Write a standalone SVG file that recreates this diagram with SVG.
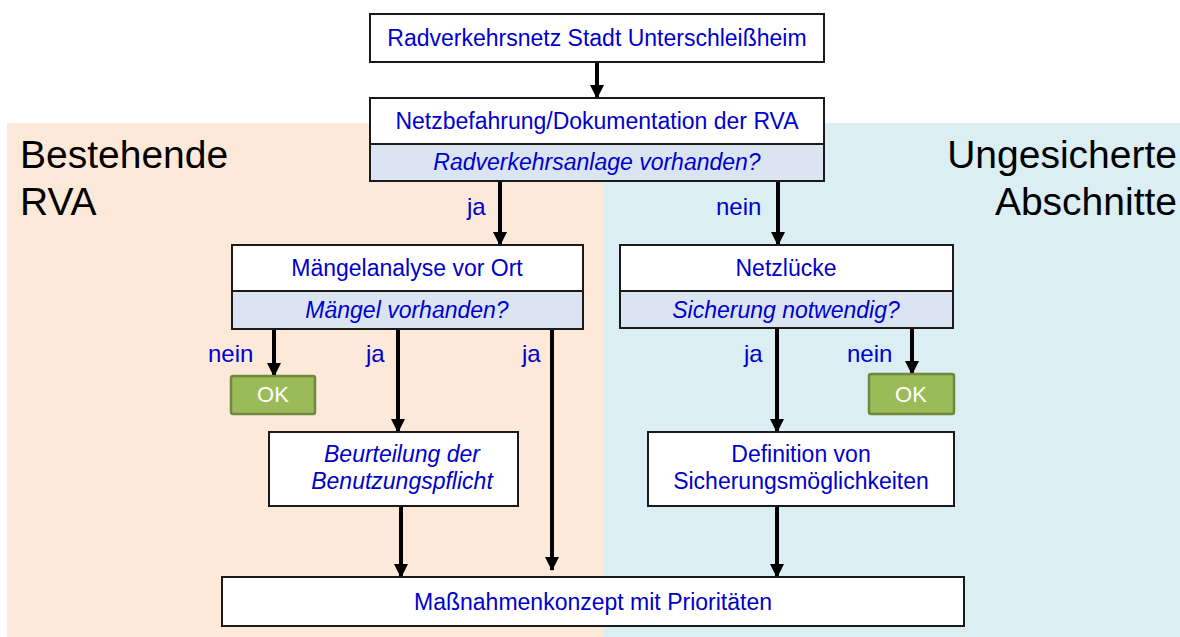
<svg xmlns="http://www.w3.org/2000/svg" width="1180" height="637" viewBox="0 0 1180 637">
<style>
.box{fill:#fff;stroke:#1a1a1a;stroke-width:2}
.band{fill:#dbe5f1;stroke:#1a1a1a;stroke-width:2}
.ok{fill:#9bbb59;stroke:#71893f;stroke-width:2.5}
.t{font-family:"Liberation Sans",Arial,sans-serif;font-size:23px;fill:#0000cc;text-anchor:middle}
.i{font-style:italic}
.lbl{font-family:"Liberation Sans",Arial,sans-serif;font-size:24px;fill:#0000cc}
.okt{font-family:"Liberation Sans",Arial,sans-serif;font-size:22px;fill:#fff;text-anchor:middle}
.big{font-family:"Liberation Sans",Arial,sans-serif;font-size:39px;fill:#000}
.arr{stroke:#000;stroke-width:4;fill:none;marker-end:url(#ah)}
</style>
<defs>
<marker id="ah" markerUnits="userSpaceOnUse" markerWidth="14" markerHeight="14" viewBox="0 0 14 14" refX="13" refY="7" orient="auto">
<path d="M0,0 L14,7 L0,14 z" fill="#000"/>
</marker>
</defs>
<rect width="1180" height="637" fill="#fff"/>
<g id="bg-left">
<rect x="7" y="123" width="597" height="514" fill="#fde9d9"/>
<text class="big" x="20" y="168">Bestehende</text>
<text class="big" x="20" y="215">RVA</text>
</g>
<g id="bg-right">
<rect x="604" y="123" width="576" height="514" fill="#daeef3"/>
<text class="big" x="1177" y="168" text-anchor="end">Ungesicherte</text>
<text class="big" x="1177" y="215" text-anchor="end">Abschnitte</text>
</g>
<g id="connectors">
<line class="arr" x1="597" y1="62" x2="597" y2="98"/>
<line class="arr" x1="500" y1="181" x2="500" y2="245"/>
<line class="arr" x1="778" y1="181" x2="778" y2="245"/>
<line class="arr" x1="274" y1="329" x2="274" y2="376"/>
<line class="arr" x1="398" y1="329" x2="398" y2="432"/>
<line class="arr" x1="552" y1="329" x2="552" y2="570"/>
<line class="arr" x1="777" y1="328" x2="777" y2="432"/>
<line class="arr" x1="912" y1="328" x2="912" y2="374"/>
<line class="arr" x1="401" y1="506" x2="401" y2="577"/>
<line class="arr" x1="777" y1="506" x2="777" y2="577"/>
<text class="lbl" x="467" y="215">ja</text>
<text class="lbl" x="716" y="215">nein</text>
<text class="lbl" x="208" y="362">nein</text>
<text class="lbl" x="366" y="362">ja</text>
<text class="lbl" x="522" y="362">ja</text>
<text class="lbl" x="744" y="362">ja</text>
<text class="lbl" x="847" y="362">nein</text>
</g>
<g id="n-radverkehrsnetz">
<rect class="box" x="370" y="14" width="454" height="48"/>
<text class="t" x="597" y="46">Radverkehrsnetz Stadt Unterschleißheim</text>
</g>
<g id="n-netzbefahrung">
<rect class="box" x="370" y="98" width="454" height="46"/>
<rect class="band" x="370" y="144" width="454" height="37"/>
<text class="t" x="597" y="129">Netzbefahrung/Dokumentation der RVA</text>
<text class="t i" x="597" y="170">Radverkehrsanlage vorhanden?</text>
</g>
<g id="n-maengelanalyse">
<rect class="box" x="232" y="245" width="351" height="46"/>
<rect class="band" x="232" y="291" width="351" height="38"/>
<text class="t" x="407" y="276">Mängelanalyse vor Ort</text>
<text class="t i" x="407" y="318">Mängel vorhanden?</text>
</g>
<g id="n-netzluecke">
<rect class="box" x="620" y="245" width="333" height="46"/>
<rect class="band" x="620" y="291" width="333" height="37"/>
<text class="t" x="786" y="276">Netzlücke</text>
<text class="t i" x="786" y="318">Sicherung notwendig?</text>
</g>
<g id="n-ok-left">
<rect class="ok" x="231" y="376" width="84" height="38" rx="2"/>
<text class="okt" x="273" y="402">OK</text>
</g>
<g id="n-ok-right">
<rect class="ok" x="869" y="374" width="85" height="40" rx="2"/>
<text class="okt" x="911" y="402">OK</text>
</g>
<g id="n-beurteilung">
<rect class="box" x="269" y="432" width="249" height="74"/>
<text class="t i" x="402" y="462">Beurteilung der</text>
<text class="t i" x="402" y="489">Benutzungspflicht</text>
</g>
<g id="n-definition">
<rect class="box" x="648" y="432" width="306" height="74"/>
<text class="t" x="801" y="462">Definition von</text>
<text class="t" x="801" y="489">Sicherungsmöglichkeiten</text>
</g>
<g id="n-massnahmen">
<rect class="box" x="222" y="577" width="742" height="49"/>
<text class="t" x="593" y="610">Maßnahmenkonzept mit Prioritäten</text>
</g>
</svg>
